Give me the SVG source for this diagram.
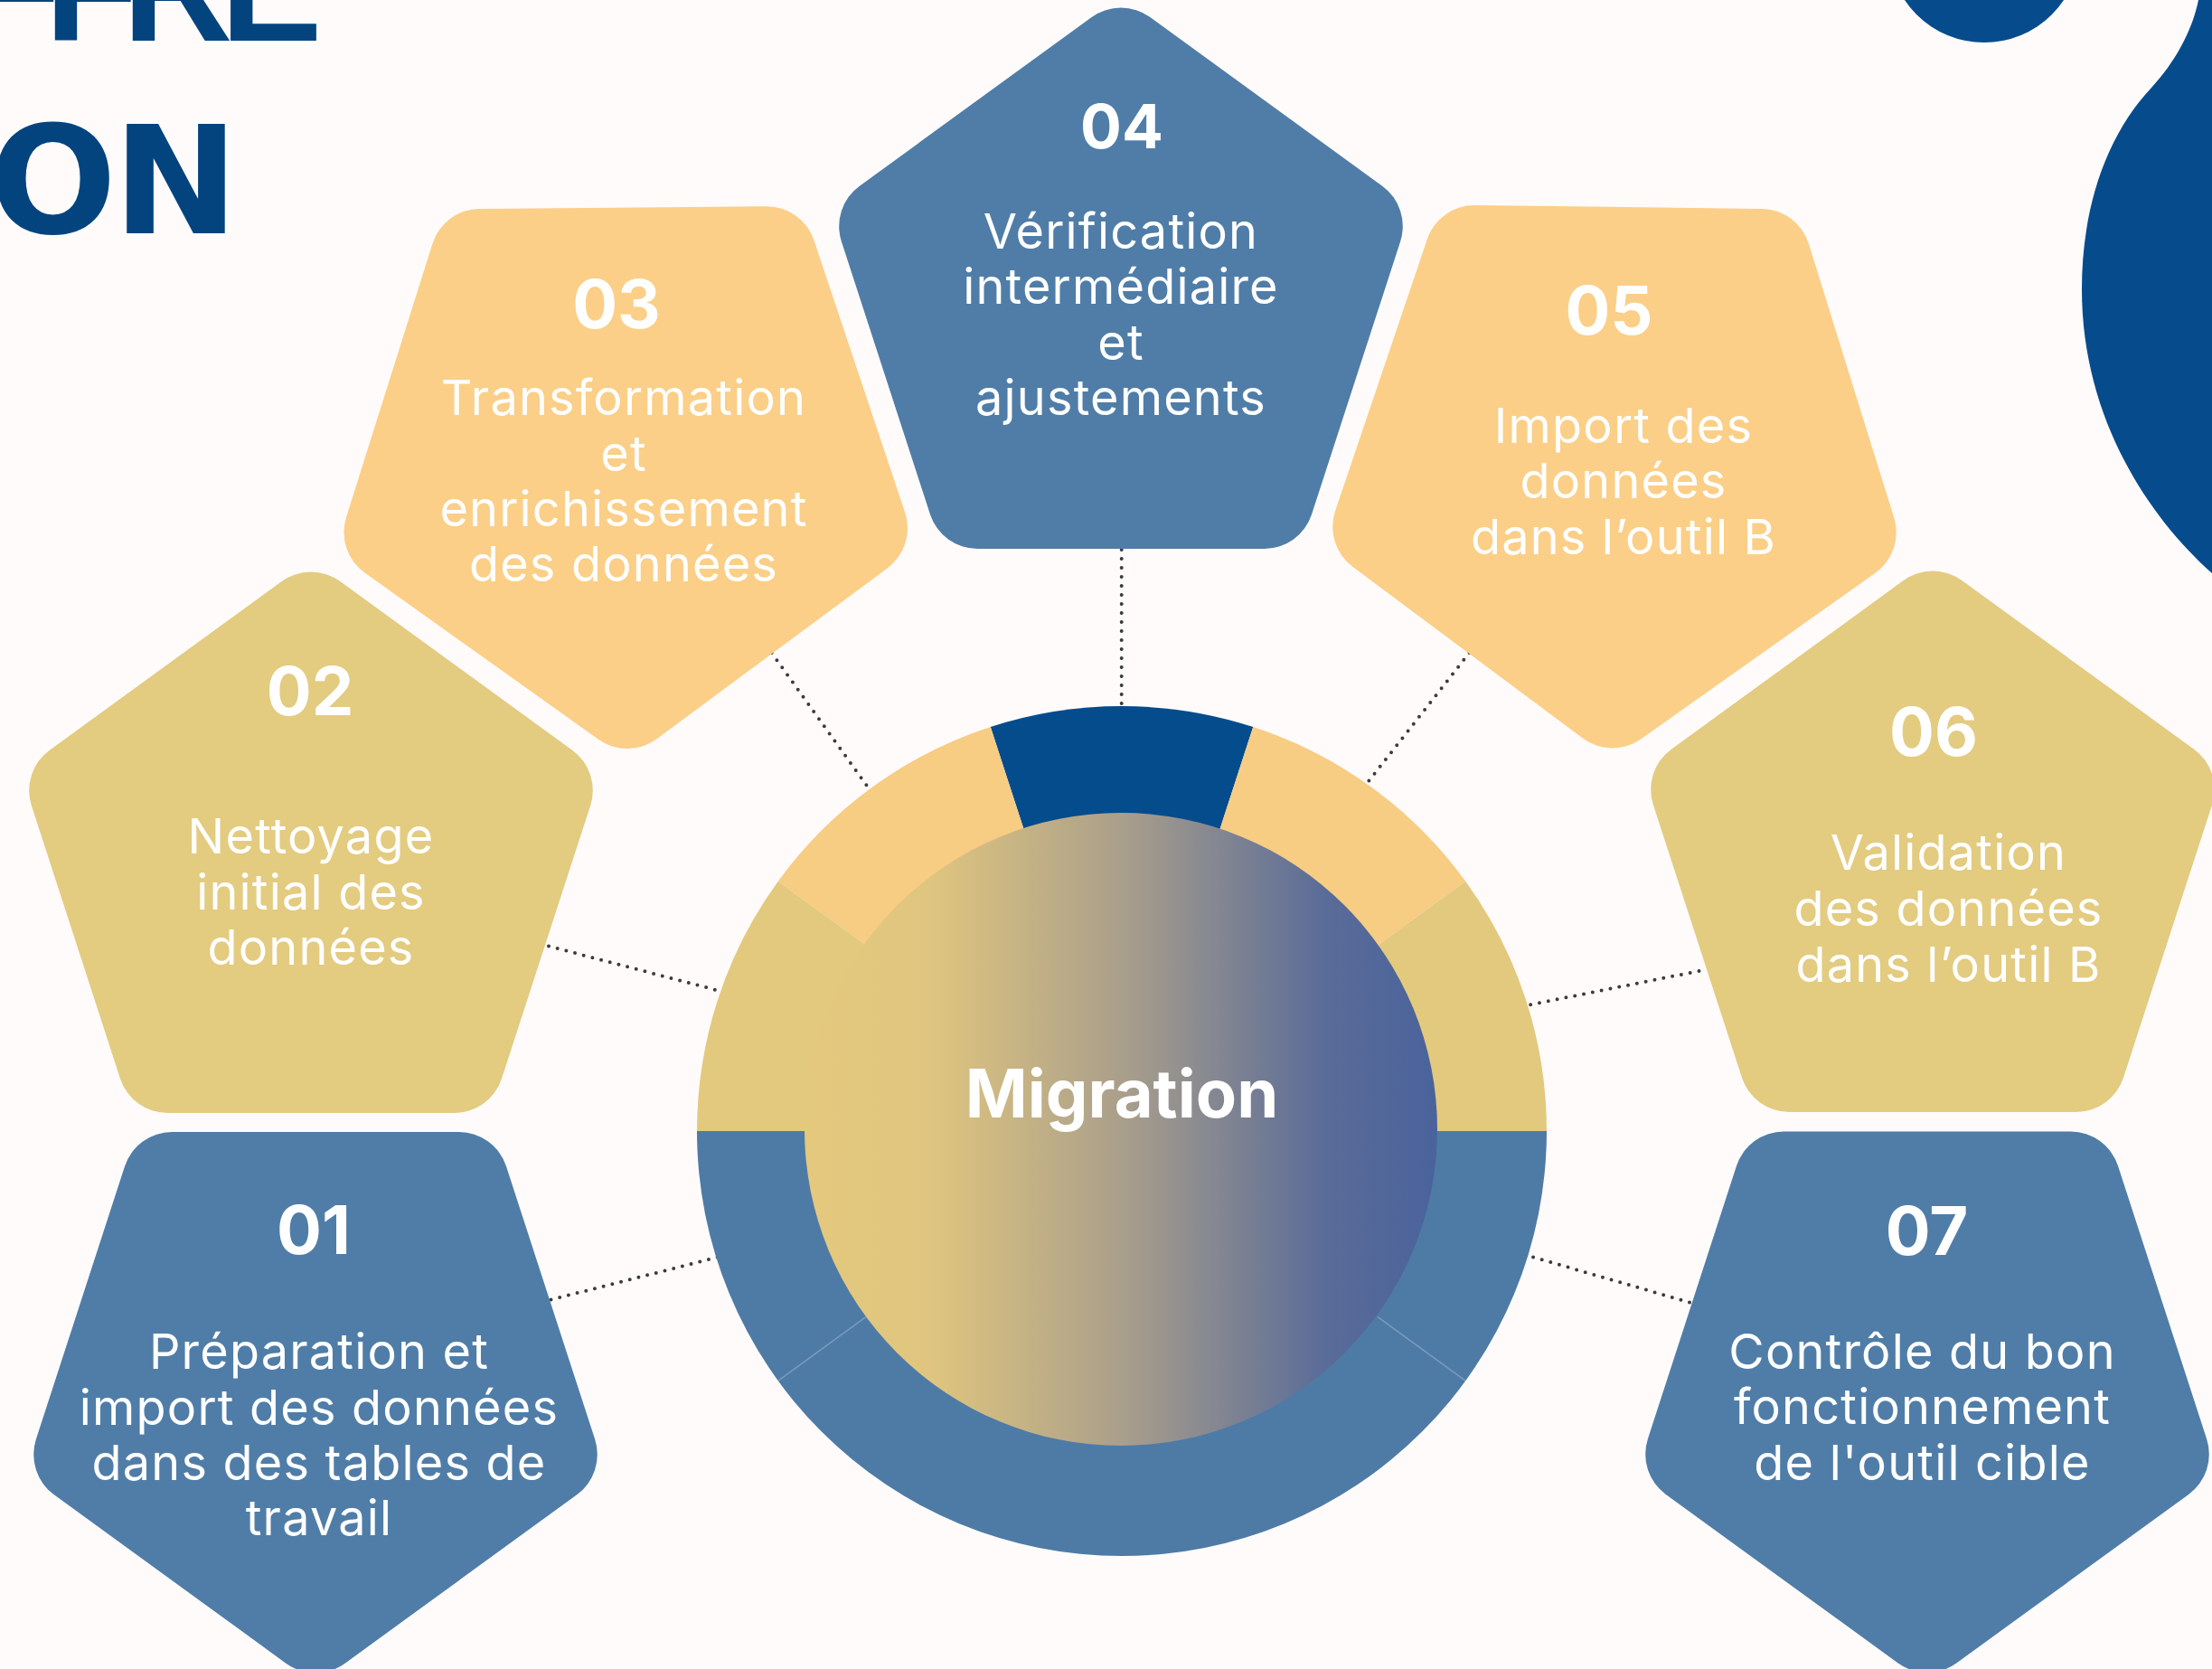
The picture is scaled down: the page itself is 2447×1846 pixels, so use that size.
<svg xmlns="http://www.w3.org/2000/svg" xmlns:xlink="http://www.w3.org/1999/xlink" width="2447" height="1846" viewBox="0 0 2447 1846">
<style>
.pent{stroke-width:110;stroke-linejoin:round}
.blue{fill:#4f7da8;stroke:#4f7da8}
.khaki{fill:#e3cb80;stroke:#e3cb80}
.orange{fill:#fbcf87;stroke:#fbcf87}
.num{font-family:Inter,"Liberation Sans",sans-serif;font-weight:700;font-size:74px;fill:#ffffff;text-anchor:middle}
.lbl{font-family:Inter,"Liberation Sans",sans-serif;font-weight:400;font-size:54px;letter-spacing:1.2px;fill:#ffffff;text-anchor:middle}
.title{font-family:"Liberation Sans",Arial,sans-serif;font-weight:700;font-size:169px;fill:#03447f}
.title2{font-family:"DejaVu Sans",sans-serif;font-weight:700;font-size:166px;fill:#03447f}
.dot{stroke:#3b3b3b;stroke-width:4;stroke-linecap:round;stroke-dasharray:0 10;fill:none}
.deco{fill:#064c8d}
</style>
<defs>
<polygon id="pent" points="0,-270 256.79,-83.43 158.70,218.43 -158.70,218.43 -256.79,-83.43"/>
<linearGradient id="grad" x1="890" y1="0" x2="1590" y2="0" gradientUnits="userSpaceOnUse">
<stop offset="0" stop-color="#e4c87d"/>
<stop offset="0.2" stop-color="#dfc57f"/>
<stop offset="0.5" stop-color="#aa9f8b"/>
<stop offset="0.82" stop-color="#5a6c98"/>
<stop offset="1" stop-color="#4a639c"/>
</linearGradient>
</defs>
<rect width="2447" height="1846" fill="#fffbfa"/>
<g id="decor">
<circle class="deco" cx="2195" cy="-59" r="106"/>
<path class="deco" d="M2432,0 C2425,35 2405,70 2380,97 C2330,150 2303,230 2303,320 C2303,460 2375,570 2447,634 L2447,0 Z"/>
</g>
<g id="title">
<text class="title" x="-36 49.4 135.4 243.7" y="45">FFRE</text>
<text class="title2" x="-12 125" y="257.7">ON</text>
</g>
<g id="connectors">
<line class="dot" x1="1240.7" y1="608" x2="1240.7" y2="779"/>
<line class="dot" x1="853.6" y1="722" x2="961" y2="872"/>
<line class="dot" x1="1625.5" y1="722" x2="1507" y2="873"/>
<line class="dot" x1="607" y1="1046.5" x2="796" y2="1096"/>
<line class="dot" x1="1879.5" y1="1074" x2="1684" y2="1113"/>
<line class="dot" x1="609.5" y1="1437.5" x2="796" y2="1390"/>
<line class="dot" x1="1869" y1="1440.5" x2="1684" y2="1387"/>
</g>
<g id="hub">
<path d="M1241,1251 L1095.76,804 A470,470 0 0 1 1386.24,804 Z" fill="#054c8c"/>
<path d="M1241,1251 L1386.24,804 A470,470 0 0 1 1621.24,974.74 Z" fill="#f7cc83"/>
<path d="M1241,1251 L860.76,974.74 A470,470 0 0 1 1095.76,804 Z" fill="#f7cc83"/>
<path d="M1241,1251 L1621.24,974.74 A470,470 0 0 1 1711,1251 Z" fill="#e3c97e"/>
<path d="M1241,1251 L771,1251 A470,470 0 0 1 860.76,974.74 Z" fill="#e3c97e"/>
<path d="M1241,1251 L1711,1251 A470,470 0 0 1 771,1251 Z" fill="#4e7ba6"/>
<line x1="1524.16" y1="1456.73" x2="1621.24" y2="1527.26" stroke="#8fa9c6" stroke-width="1.5" opacity="0.7"/>
<line x1="957.84" y1="1456.73" x2="860.76" y2="1527.26" stroke="#8fa9c6" stroke-width="1.5" opacity="0.7"/>
<circle cx="1240" cy="1249" r="350" fill="url(#grad)"/>
<text x="1241" y="1236" font-family="Inter,'Liberation Sans',sans-serif" font-weight="700" font-size="74" fill="#ffffff" text-anchor="middle">Migration</text>
</g>
<g id="step01">
<use xlink:href="#pent" class="pent blue" transform="translate(349,1525.4) rotate(180)"/>
<text class="num" x="347" y="1387">01</text>
<text class="lbl" x="353" y="1513.7">Préparation et</text>
<text class="lbl" x="353" y="1575.8">import des données</text>
<text class="lbl" x="353" y="1636.7">dans des tables de</text>
<text class="lbl" x="353" y="1697.6">travail</text>
</g>
<g id="step02">
<use xlink:href="#pent" class="pent khaki" transform="translate(344,957.6)"/>
<text class="num" x="343" y="791">02</text>
<text class="lbl" x="344" y="944">Nettoyage</text>
<text class="lbl" x="344" y="1005.5">initial des</text>
<text class="lbl" x="344" y="1067">données</text>
</g>
<g id="step03">
<use xlink:href="#pent" class="pent orange" transform="translate(691.5,503) rotate(179.5)"/>
<text class="num" x="682" y="363">03</text>
<text class="lbl" x="690" y="459">Transformation</text>
<text class="lbl" x="690" y="520.5">et</text>
<text class="lbl" x="690" y="581.5">enrichissement</text>
<text class="lbl" x="690" y="643">des données</text>
</g>
<g id="step04">
<use xlink:href="#pent" class="pent blue" transform="translate(1240,333.6)"/>
<text class="num" x="1241" y="164" style="font-size:68px">04</text>
<text class="lbl" x="1240" y="275">Vérification</text>
<text class="lbl" x="1240" y="336">intermédiaire</text>
<text class="lbl" x="1240" y="397.5">et</text>
<text class="lbl" x="1240" y="459">ajustements</text>
</g>
<g id="step05">
<use xlink:href="#pent" class="pent orange" transform="translate(1787,502.4) rotate(180.7)"/>
<text class="num" x="1780" y="370">05</text>
<text class="lbl" x="1796" y="489.5">Import des</text>
<text class="lbl" x="1796" y="550.5">données</text>
<text class="lbl" x="1796" y="612.5">dans l’outil B</text>
</g>
<g id="step06">
<use xlink:href="#pent" class="pent khaki" transform="translate(2138,956.6)"/>
<text class="num" x="2139" y="835.5">06</text>
<text class="lbl" x="2155.5" y="962">Validation</text>
<text class="lbl" x="2155.5" y="1024">des données</text>
<text class="lbl" x="2155.5" y="1085.5">dans l’outil B</text>
</g>
<g id="step07">
<use xlink:href="#pent" class="pent blue" transform="translate(2132,1525) rotate(180)"/>
<text class="num" x="2131.5" y="1388">07</text>
<text class="lbl" x="2126.5" y="1513.7">Contrôle du bon</text>
<text class="lbl" x="2126.5" y="1575">fonctionnement</text>
<text class="lbl" x="2126.5" y="1636.7">de l'outil cible</text>
</g>
</svg>
